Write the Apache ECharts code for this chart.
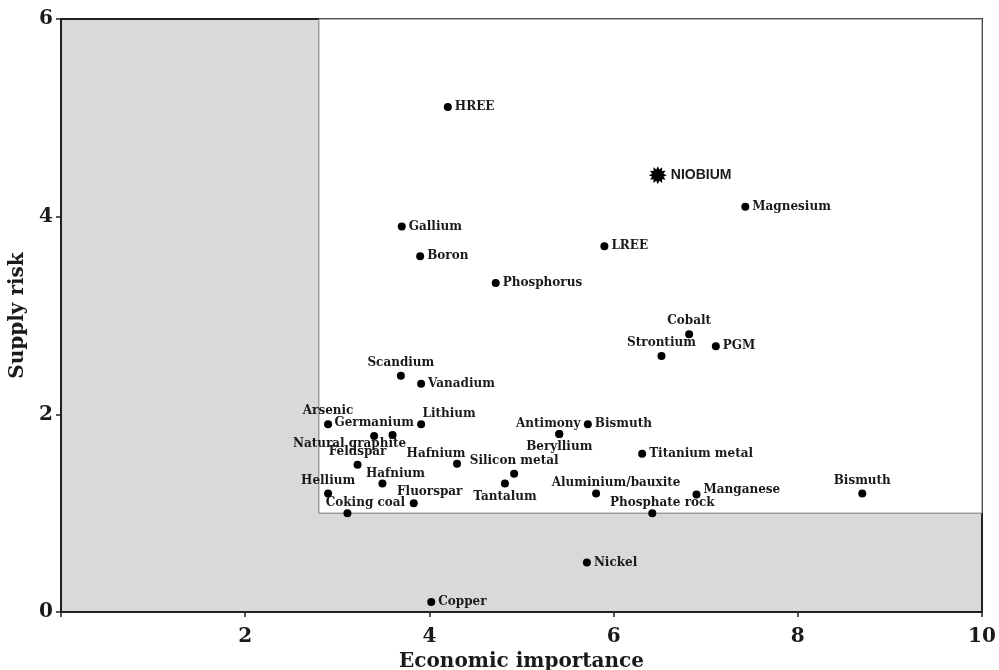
<!DOCTYPE html>
<html>
<head>
<meta charset="utf-8">
<script src="https://cdn.jsdelivr.net/npm/echarts@6/dist/echarts.min.js"></script>
<style>html,body{margin:0;padding:0;background:#fff}#c{width:999px;height:670px}</style>
</head>
<body>
<div id="c"></div>
<script>
// ---- data ----
var names = ["HREE","NIOBIUM","Magnesium","Gallium","Boron","LREE","Phosphorus","Cobalt","Strontium","PGM",
  "Scandium","Vanadium","Arsenic","Germanium","Natural graphite","Lithium","Feldspar","Hafnium","Hellium","Coking coal",
  "Fluorspar","Hafnium","Silicon metal","Tantalum","Antimony","Beryllium","Bismuth","Aluminium/bauxite","Titanium metal","Manganese",
  "Phosphate rock","Bismuth","Nickel","Copper"];
var economicImportance = [4.2,6.48,7.43,3.7,3.9,5.9,4.72,6.82,6.52,7.11,
  3.69,3.91,2.9,3.4,3.6,3.91,3.22,3.49,2.9,3.11,
  3.83,4.3,4.92,4.82,5.41,5.41,5.72,5.81,6.31,6.9,
  6.42,8.7,5.71,4.02];
var supplyRisk = [5.11,4.42,4.1,3.9,3.6,3.7,3.33,2.81,2.59,2.69,
  2.39,2.31,1.9,1.78,1.79,1.9,1.49,1.3,1.2,1.0,
  1.1,1.5,1.4,1.3,1.8,1.8,1.9,1.2,1.6,1.19,
  1.0,1.2,0.5,0.1];
var xTicks = [0,2,4,6,8,10];
var yTicks = [0,2,4,6];
var thresholdX = 2.8, thresholdY = 1;

// ---- label placement (style only): [position, dx, dy] ----
var labelPlace = [
  ["right"],["right"],["right"],["right"],["right"],["right"],["right"],["top"],["top"],["right"],
  ["top"],["right"],["top"],["top"],["inside",-43,9],["inside",28,-10],["top"],["inside",13,-10],["top"],["inside",18,-10],
  ["inside",16,-11],["inside",-21,-10],["top"],["bottom"],["inside",-11,-10],["bottom"],["right"],["inside",20,-11],["right"],["right",0,-5],
  ["inside",10,-10],["top"],["right"],["right"]
];

// 12-point star path
function starPath(n, R, r){
  var s = "path://";
  for (var i = 0; i < 2*n; i++){
    var a = Math.PI * i / n - Math.PI/2;
    var rad = (i % 2 === 0) ? R : r;
    s += (i === 0 ? "M" : "L") + (20 + rad*Math.cos(a)).toFixed(2) + "," + (20 + rad*Math.sin(a)).toFixed(2);
  }
  return s + "Z";
}
var STAR = starPath(12, 20, 13);

var serif = "DejaVu Serif";
var data = names.map(function(n, i){
  var lp = labelPlace[i];
  var item = { name: n, value: [economicImportance[i], supplyRisk[i]] };
  var lab = { show: true, formatter: n, position: lp[0], distance: 3 };
  if (n === "NIOBIUM") {
    item.symbol = STAR; item.symbolSize = 18;
    lab.fontFamily = "Liberation Sans"; lab.fontSize = 14; lab.distance = 4;
  }
  item.label = lab;
  return item;
});

var chart = echarts.init(document.getElementById('c'), null, {renderer: 'canvas'});
chart.setOption({
  animation: false,
  backgroundColor: '#ffffff',
  grid: { left: 61, right: 17, top: 19, bottom: 58, outerBoundsMode: 'none', containLabel: false,
    show: true, backgroundColor: '#d9d9d9', borderColor: '#222', borderWidth: 2 },
  xAxis: {
    type: 'value', min: xTicks[0], max: xTicks[xTicks.length-1], interval: 2,
    name: 'Economic importance', nameLocation: 'middle', nameGap: 39,
    nameTextStyle: { fontFamily: serif, fontWeight: 'bold', fontSize: 20, color: '#1a1a1a' },
    axisLine: { show: true, lineStyle: { color: '#222', width: 2 } },
    axisTick: { show: true, length: 5, inside: false, lineStyle: { color: '#222', width: 1.5 } },
    axisLabel: { fontFamily: serif, fontWeight: 'bold', fontSize: 20, color: '#1a1a1a', margin: 15,
      formatter: function(v){ return v === 0 ? '' : String(v); } },
    splitLine: { show: false }
  },
  yAxis: {
    type: 'value', min: yTicks[0], max: yTicks[yTicks.length-1], interval: 2,
    name: 'Supply risk', nameLocation: 'middle', nameGap: 33,
    nameTextStyle: { fontFamily: serif, fontWeight: 'bold', fontSize: 20, color: '#1a1a1a' },
    axisLine: { show: true, lineStyle: { color: '#222', width: 2 } },
    axisTick: { show: true, length: 5, lineStyle: { color: '#222', width: 1.5 } },
    axisLabel: { fontFamily: serif, fontWeight: 'bold', fontSize: 20, color: '#1a1a1a', margin: 8 },
    splitLine: { show: false }
  },
  series: [{
    type: 'scatter',
    symbol: 'circle',
    symbolSize: 8,
    itemStyle: { color: '#000', opacity: 1 },
    label: { fontFamily: serif, fontWeight: 'bold', fontSize: 12, color: '#1a1a1a' },
    labelLayout: function(p){
      var lp = labelPlace[p.dataIndex];
      return { dx: lp[1] || 0, dy: lp[2] || 0, hideOverlap: false };
    },
    data: data,
    markArea: {
      silent: true,
      itemStyle: { color: '#ffffff', borderColor: '#777', borderWidth: 1 },
      data: [[{ coord: [thresholdX, thresholdY] }, { coord: [xTicks[xTicks.length-1], yTicks[yTicks.length-1]] }]]
    },
    z: 3
  }]
});
</script>
</body>
</html>
